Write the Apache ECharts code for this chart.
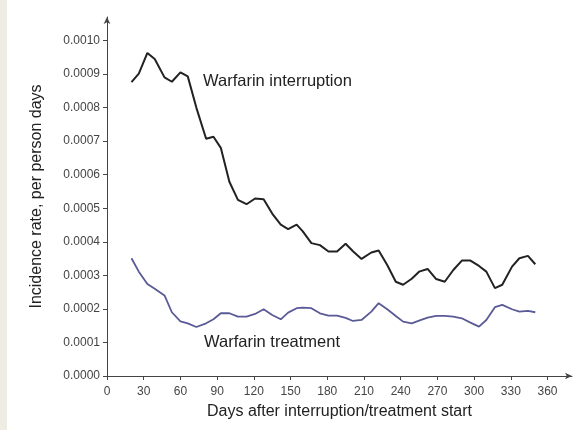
<!DOCTYPE html>
<html>
<head>
<meta charset="utf-8">
<script src="https://cdn.jsdelivr.net/npm/echarts@6/dist/echarts.min.js"></script>
<style>html,body{margin:0;padding:0;background:#fff;}#c{width:574px;height:430px;}</style>
</head>
<body>
<div id="c"></div>
<script>
var days = [20,26,33,39,47,53,60,66,73,81,87,93,100,107,114,121,128,135,142,148,155,160,167,174,181,188,195,201,208,216,222,229,236,242,249,255,262,269,276,283,290,297,304,310,317,323,331,337,344,350];
var interruption = [0.000876,0.000901,0.000963,0.000945,0.000890,0.000877,0.000905,0.000893,0.000800,0.000707,0.000713,0.000680,0.000579,0.000525,0.000512,0.000529,0.000527,0.000484,0.000451,0.000438,0.000451,0.000431,0.000396,0.000390,0.000371,0.000371,0.000394,0.000372,0.000349,0.000368,0.000374,0.000331,0.000281,0.000272,0.000290,0.000311,0.000319,0.000289,0.000281,0.000316,0.000344,0.000344,0.000328,0.000311,0.000262,0.000272,0.000326,0.000351,0.000358,0.000333];
var treatment = [0.000351,0.000311,0.000274,0.000260,0.000240,0.000190,0.000163,0.000157,0.000146,0.000157,0.000169,0.000187,0.000187,0.000177,0.000177,0.000185,0.000199,0.000182,0.000169,0.000189,0.000202,0.000204,0.000202,0.000187,0.000180,0.000180,0.000173,0.000164,0.000167,0.000192,0.000217,0.000199,0.000179,0.000162,0.000157,0.000165,0.000174,0.000179,0.000179,0.000177,0.000172,0.000159,0.000147,0.000167,0.000205,0.000212,0.000199,0.000192,0.000194,0.000190];
var xTicks = [0,30,60,90,120,150,180,210,240,270,300,330,360];
var yTicks = [0,0.0001,0.0002,0.0003,0.0004,0.0005,0.0006,0.0007,0.0008,0.0009,0.0010];
var seriesNames = ['Warfarin interruption','Warfarin treatment'];

function pairs(xs, ys){ return xs.map(function(x,i){ return [x, ys[i]]; }); }

var chart = echarts.init(document.getElementById('c'), null, {renderer:'canvas'});
var axisColor = '#444';
chart.setOption({
  animation: false,
  backgroundColor: '#fff',
  textStyle: {fontFamily: 'Liberation Sans, Arial, sans-serif'},
  grid: {left: 107, right: 2, top: 17, bottom: 54, containLabel: false},
  graphic: [
    {type:'rect', left:0, top:0, shape:{x:0,y:0,width:7,height:430}, style:{fill:'#efede3'}, z:-1},
    {type:'text', left:203, top:73, style:{text:seriesNames[0], fill:'#222', font:'16.5px "Liberation Sans", Arial, sans-serif'}},
    {type:'text', left:204, top:334, style:{text:seriesNames[1], fill:'#222', font:'16.5px "Liberation Sans", Arial, sans-serif'}}
  ],
  xAxis: {
    type: 'value', min: 0, max: 380,
    name: 'Days after interruption/treatment start',
    nameLocation: 'middle', nameGap: 28,
    nameTextStyle: {fontSize: 16, color: '#222'},
    axisLine: {show: true, lineStyle: {color: axisColor, width: 1}, symbol: ['none','arrow'], symbolSize: [5,7]},
    axisTick: {show: true, length: 4, lineStyle: {color: axisColor}, customValues: xTicks},
    axisLabel: {fontSize: 12, color: '#444', margin: 10, customValues: xTicks},
    splitLine: {show: false}
  },
  yAxis: {
    type: 'value', min: 0, max: 0.00107,
    name: 'Incidence rate, per person days',
    nameLocation: 'middle', nameGap: 62,
    nameTextStyle: {fontSize: 16, color: '#222'},
    axisLine: {show: true, lineStyle: {color: axisColor, width: 1}, symbol: ['none','arrow'], symbolSize: [5,7]},
    axisTick: {show: true, length: 4, lineStyle: {color: axisColor}, customValues: yTicks},
    axisLabel: {fontSize: 12, color: '#444', margin: 7, customValues: yTicks,
      formatter: function(v){ return v.toFixed(4); }},
    splitLine: {show: false}
  },
  series: [
    {name: seriesNames[0], type: 'line', data: pairs(days, interruption), showSymbol: false, symbol: 'none',
     lineStyle: {color: '#222', width: 2}, z: 3},
    {name: seriesNames[1], type: 'line', data: pairs(days, treatment), showSymbol: false, symbol: 'none',
     lineStyle: {color: '#5a5a96', width: 1.8}, z: 2}
  ]
});
</script>
</body>
</html>
